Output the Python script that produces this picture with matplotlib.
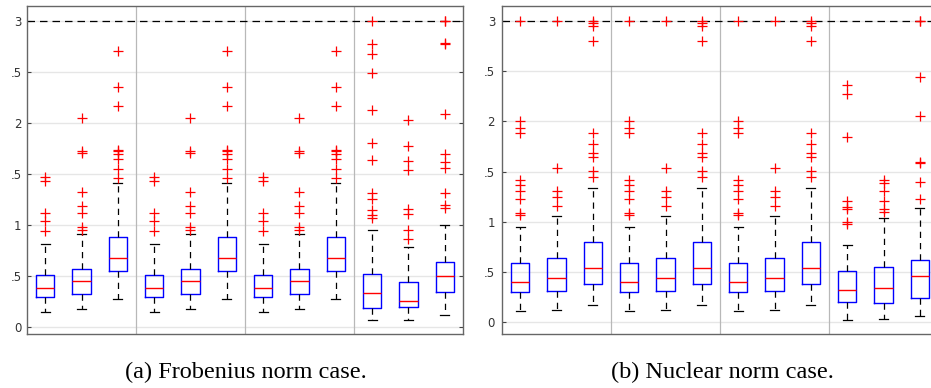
import matplotlib.pyplot as plt

# box statistics: (q1, median, q3, whisker low, whisker high)
frob_g = [
    (0.294, 0.377, 0.510, 0.144, 0.815),
    (0.318, 0.451, 0.566, 0.180, 0.910),
    (0.544, 0.671, 0.883, 0.272, 1.410),
]
frob_g_out = [
    [0.94, 1.04, 1.12, 1.43, 1.47],
    [0.95, 0.98, 1.12, 1.19, 1.32, 1.71, 1.72, 2.05],
    [1.46, 1.55, 1.65, 1.70, 1.72, 1.73, 2.17, 2.35, 2.71],
]
frob_last = [
    (0.184, 0.328, 0.517, 0.072, 0.952),
    (0.196, 0.255, 0.442, 0.066, 0.782),
    (0.341, 0.500, 0.638, 0.118, 1.001),
]
frob_last_out = [
    [1.07, 1.10, 1.15, 1.25, 1.31, 1.64, 1.80, 2.13, 2.49, 2.68, 2.77, 3.0],
    [0.86, 0.95, 1.11, 1.16, 1.54, 1.63, 1.77, 2.03],
    [1.17, 1.20, 1.31, 1.56, 1.62, 1.70, 2.09, 2.77, 2.78, 3.0, 3.0],
]

nuc_g = [
    (0.295, 0.398, 0.584, 0.106, 0.946),
    (0.305, 0.441, 0.637, 0.116, 1.052),
    (0.381, 0.538, 0.793, 0.169, 1.338),
]
nuc_g_out = [
    [1.07, 1.09, 1.23, 1.31, 1.37, 1.42, 1.88, 1.93, 2.00, 3.0],
    [1.16, 1.25, 1.31, 1.53, 3.0],
    [1.45, 1.51, 1.64, 1.68, 1.77, 1.88, 2.80, 2.95, 2.98, 3.0],
]
nuc_last = [
    (0.195, 0.322, 0.504, 0.023, 0.770),
    (0.189, 0.338, 0.548, 0.030, 1.036),
    (0.242, 0.461, 0.620, 0.063, 1.135),
]
nuc_last_out = [
    [0.98, 1.00, 1.13, 1.15, 1.21, 1.84, 2.27, 2.36],
    [1.10, 1.13, 1.21, 1.31, 1.39, 1.42],
    [1.23, 1.40, 1.58, 1.59, 2.05, 2.44, 3.0, 3.0],
]

yticks = [0, 0.5, 1, 1.5, 2, 2.5, 3]
ytick_labels = ['0', '.5', '1', '.5', '2', '.5', '3']
captions = ['(a) Frobenius norm case.', '(b) Nuclear norm case.']


def make_stats(boxes, outs):
    stats = []
    for (q1, med, q3, lo, hi), fl in zip(boxes, outs):
        stats.append(dict(q1=q1, med=med, q3=q3, whislo=lo, whishi=hi, fliers=fl))
    return stats


def draw_panel(ax, g, g_out, last, last_out, ylim, pad):
    stats = make_stats(g, g_out) * 3 + make_stats(last, last_out)
    ax.bxp(stats, positions=range(1, 13), widths=0.5, showfliers=True,
           boxprops=dict(color='#0000ff', linewidth=1.0),
           medianprops=dict(color='#ff0000', linewidth=1.0),
           whiskerprops=dict(color='black', linewidth=0.9, linestyle=(0, (5, 4))),
           capprops=dict(color='black', linewidth=0.9),
           capwidths=0.25,
           flierprops=dict(marker='+', markeredgecolor='#ff0000', markersize=7,
                           markeredgewidth=0.9, linestyle='none'))
    ax.axhline(3, color='black', linestyle=(0, (6, 4)), linewidth=0.9, zorder=1.5)
    for xs in [3.5, 6.5, 9.5]:
        ax.axvline(xs, color='#b8b8b8', linewidth=0.9, zorder=0.6)
    ax.set_xlim(0.5, 12.5)
    ax.set_ylim(*ylim)
    ax.set_yticks(yticks)
    ax.set_yticklabels(ytick_labels, fontsize=8.5, color='#333333')
    ax.set_xticks([])
    ax.yaxis.grid(True, color='#e6e6e6', linewidth=1.0)
    ax.set_axisbelow(True)
    ax.tick_params(axis='y', direction='in', length=3, width=0.8, color='#444444',
                   left=True, right=True, pad=pad)
    for s in ax.spines.values():
        s.set_color('#666666')
        s.set_linewidth(1.0)


fig = plt.figure(figsize=(9.31, 3.88), dpi=100)
ax1 = fig.add_axes([27 / 931, 54 / 388, 436 / 931, 328 / 388])
ax2 = fig.add_axes([502 / 931, 54 / 388, 436 / 931, 328 / 388])

draw_panel(ax1, frob_g, frob_g_out, frob_last, frob_last_out, (-0.07, 3.147), 4)
draw_panel(ax2, nuc_g, nuc_g_out, nuc_last, nuc_last_out, (-0.12, 3.15), 5)

fig.text(246 / 931, 1 - 378 / 388, captions[0], ha='center', va='baseline',
         family='Liberation Serif', fontsize=17.5)
fig.text(722 / 931, 1 - 378 / 388, captions[1], ha='center', va='baseline',
         family='Liberation Serif', fontsize=17.5)

fig.savefig('out.png', dpi=100)
